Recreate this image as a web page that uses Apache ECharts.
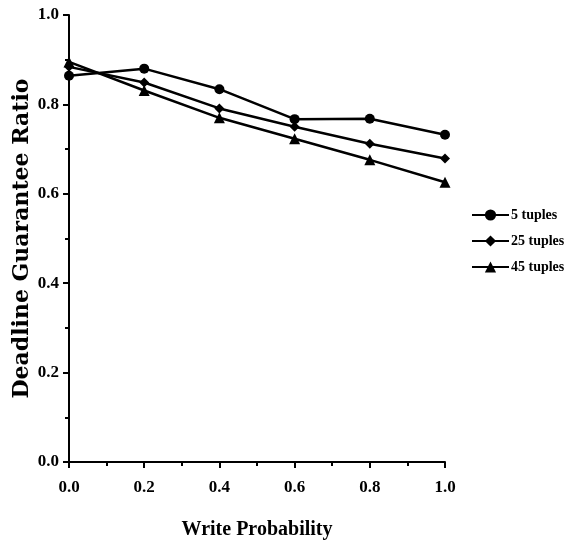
<!DOCTYPE html>
<html><head><meta charset="utf-8">
<script src="https://cdn.jsdelivr.net/npm/echarts@6/dist/echarts.min.js"></script>
<style>html,body{margin:0;padding:0;background:#fff}#c{width:565px;height:544px}</style>
</head><body><div id="c"></div>
<script>
const xValues = [0.0, 0.2, 0.4, 0.6, 0.8, 1.0];
const seriesNames = ['5 tuples', '25 tuples', '45 tuples'];
const tuples5 = [0.864, 0.880, 0.834, 0.767, 0.768, 0.732];
const tuples25 = [0.884, 0.849, 0.791, 0.750, 0.712, 0.679];
const tuples45 = [0.895, 0.831, 0.770, 0.723, 0.676, 0.626];
const symbols = ['circle', 'diamond', 'triangle'];
const allValues = [tuples5, tuples25, tuples45];

const font = 'Liberation Serif';
const chart = echarts.init(document.getElementById('c'));
chart.setOption({
  animation: false,
  backgroundColor: '#fff',
  grid: {left: 69, right: 120, top: 15, bottom: 82, containLabel: false, outerBoundsMode: 'none'},
  legend: {
    orient: 'vertical', left: 466, top: 203, itemGap: 12, itemWidth: 37, itemHeight: 14,
    textStyle: {fontFamily: font, fontWeight: 'bold', fontSize: 14, color: '#000', padding: [0,0,0,-3]},
    data: seriesNames
  },
  xAxis: {
    type: 'value', min: 0, max: 1, interval: 0.2,
    name: 'Write Probability', nameLocation: 'middle', nameGap: 58,
    nameTextStyle: {fontFamily: font, fontWeight: 'bold', fontSize: 20, color: '#000'},
    axisLine: {lineStyle: {color: '#000', width: 2}},
    axisTick: {length: 6, lineStyle: {color: '#000', width: 2}},
    minorTick: {show: true, splitNumber: 2, length: 4, lineStyle: {color: '#000', width: 2}},
    splitLine: {show: false},
    axisLabel: {fontFamily: font, fontWeight: 'bold', fontSize: 17, color: '#000', margin: 17,
      formatter: v => v.toFixed(1)}
  },
  yAxis: {
    type: 'value', min: 0, max: 1, interval: 0.2,
    name: 'Deadline Guarantee Ratio', nameLocation: 'middle', nameGap: 36, nameMoveOverlap: false,
    nameTextStyle: {fontFamily: 'DejaVu Serif', fontWeight: 'bold', fontSize: 22, color: '#000'},
    axisLine: {lineStyle: {color: '#000', width: 2}},
    axisTick: {length: 6, lineStyle: {color: '#000', width: 2}},
    minorTick: {show: true, splitNumber: 2, length: 4, lineStyle: {color: '#000', width: 2}},
    splitLine: {show: false},
    axisLabel: {fontFamily: font, fontWeight: 'bold', fontSize: 17, color: '#000', margin: 10,
      formatter: v => v.toFixed(1)}
  },
  series: seriesNames.map((n, i) => ({
    name: n, type: 'line', symbol: symbols[i], symbolSize: i === 2 ? 11 : 10,
    itemStyle: {color: '#000'}, lineStyle: {color: '#000', width: 2.5},
    data: xValues.map((x, j) => [x, allValues[i][j]])
  }))
});
</script></body></html>
